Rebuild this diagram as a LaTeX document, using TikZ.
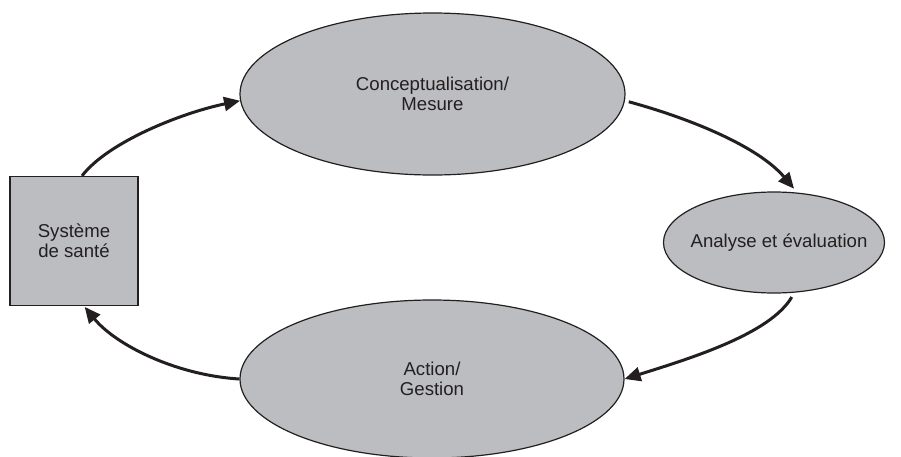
\documentclass[tikz,border=0pt]{standalone}
\usepackage{fontspec}
\setmainfont{Liberation Sans}
\usetikzlibrary{shapes.geometric,arrows.meta}
\definecolor{inkgray}{HTML}{231F20}
\definecolor{fillgray}{HTML}{BCBDC0}
\begin{document}
\begin{tikzpicture}[x=0.5pt,y=-0.5pt,
  every node/.style={font=\fontsize{9.3}{10}\selectfont, text=inkgray, align=center},
  stage/.style={ellipse, draw=inkgray, fill=fillgray, line width=0.6pt, inner sep=-40pt},
  sysbox/.style={rectangle, draw=inkgray, fill=fillgray, line width=0.6pt, inner sep=0pt,
    minimum width=64pt, minimum height=64.5pt},
  flow/.style={draw=inkgray, line width=1.5pt, -{Triangle[length=8pt,width=7pt]}}]
\useasboundingbox (0,0) rectangle (901,456);

% the cycle's four stations
\node[sysbox] (sys) at (74,241) {Système\\de santé};
\node[stage, minimum width=192.5pt, minimum height=81pt] (mes) at (432.5,94)
  {Conceptualisation/\\Mesure};
% label sits a little right of the ellipse centre
\node[stage, minimum width=110.5pt, minimum height=50.5pt] (ana) at (774,242.5)
  {\hspace*{5pt}Analyse et évaluation};
\node[stage, minimum width=192pt, minimum height=79pt] (act) at (432,379)
  {Action/\\Gestion};

% curved arrows running clockwise
\draw[flow] ([xshift=4pt]sys.north) .. controls +(26,-34) and +(-58,12) .. (mes.182);
\draw[flow, shorten <=2pt, shorten >=2.5pt] (mes.-2) .. controls +(66,18) and +(-39,-46) .. (ana.65);
\draw[flow, shorten <=2.5pt] (ana.-68) .. controls +(-24,41) and +(67,-21) .. (act.east);
\draw[flow, shorten >=0.5pt] (act.west) .. controls +(-65,-4) and +(31,38) .. ([xshift=5pt]sys.south);
\end{tikzpicture}
\end{document}
